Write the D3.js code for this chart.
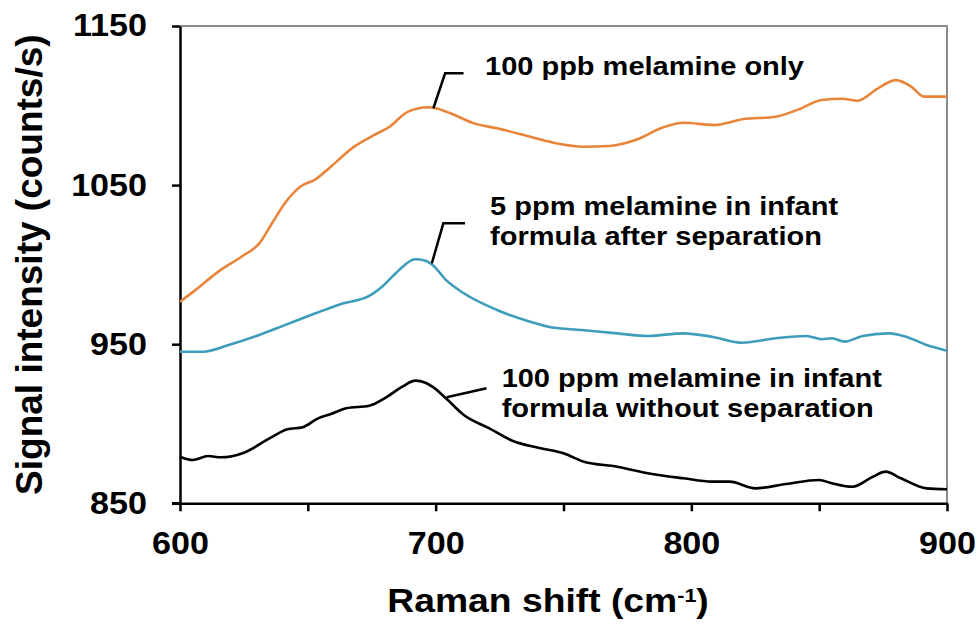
<!DOCTYPE html>
<meta charset="utf-8">
<style>
    body { margin: 0; background: #fff; }
    text { font-family: "Liberation Sans", Arial, sans-serif; font-weight: bold; fill: #000; }
    .axis path, .axis line { stroke: #000; stroke-width: 2.5px; }
    .series { fill: none; stroke-width: 2.6px; stroke-linejoin: round; }
</style>
<svg id="chart" width="978" height="624"></svg>
<script src="https://d3js.org/d3.v7.min.js"></script>
<script>
// Raman shift (cm-1) and signal intensity (counts/s)
var orangeX = [600, 606, 615, 624, 631, 636, 641, 647, 653, 659, 668, 676, 682, 689, 697, 700, 706, 715, 724, 737, 747, 758, 768, 779, 789, 797, 809, 820, 833, 842, 851, 859, 865, 873, 880, 886, 891, 900];
var orangeY = [976.7, 984, 995.6, 1005, 1013.4, 1026, 1038.6, 1049, 1053.6, 1061.6, 1074, 1081.5, 1086.7, 1096, 1098.9, 1098.3, 1095, 1088.8, 1085.7, 1080.4, 1076.3, 1074.1, 1074.6, 1078.8, 1086.3, 1089.2, 1087.8, 1091.4, 1093, 1097.6, 1103.5, 1104.3, 1103, 1110.8, 1116, 1111.9, 1105.6, 1105.6];

var blueX = [600, 609, 619, 631, 641, 653, 663, 674, 679, 685, 692, 696, 699, 704, 711, 724, 737, 745, 757, 771, 783, 797, 808, 820, 833, 845, 851, 855, 860, 867, 877, 884, 892, 900];
var blueY = [945.3, 945.3, 949.5, 955.8, 962, 969.4, 975.3, 980.3, 986.1, 995.6, 1003.4, 1002.5, 999.5, 990.4, 982, 971.5, 964.1, 960.6, 958.9, 956.8, 955.2, 956.8, 954.7, 950.9, 953.7, 955.2, 953.1, 953.7, 951.6, 955.2, 956.8, 954.7, 949.5, 945.9];

var blackX = [600, 605, 611, 616, 625, 635, 642, 648, 654, 659, 665, 674, 680, 687, 692, 696, 699, 704, 711, 721, 730, 741, 750, 758, 771, 783, 797, 808, 815, 825, 837, 850, 855, 863, 871, 876, 882, 892, 900];
var blackY = [879.3, 877.2, 879.7, 878.9, 881.8, 890.8, 896.5, 897.8, 903.4, 906.1, 909.7, 911.3, 916, 923.3, 927.1, 925.8, 923, 916, 905.5, 897.1, 889.3, 884.6, 881.4, 876.1, 873, 868.9, 865.7, 863.6, 863.6, 859.4, 862.1, 864.6, 862.6, 860.4, 866.7, 869.9, 865.7, 859.4, 858.8];

var xTicks = [600, 650, 700, 750, 800, 850, 900];
var yTicks = [850, 950, 1050, 1150];

var orangeLabel = ["100 ppb melamine only"];
var blueLabel = ["5 ppm melamine in infant", "formula after separation"];
var blackLabel = ["100 ppm melamine in infant", "formula without separation"];

var svg = d3.select("#chart");

var x = d3.scaleLinear().domain([600, 900]).range([180, 947]);
var y = d3.scaleLinear().domain([850, 1150]).range([503.3, 26]);

// the source figure is a little wider than tall, so text is stretched sideways
function stretch(sel, k) {
    sel.each(function () {
        var t = d3.select(this);
        var tx = +t.attr("x") || 0, ty = +t.attr("y") || 0;
        t.attr("x", 0).attr("y", 0)
            .attr("transform", "translate(" + tx + "," + ty + ") scale(" + k + ",1)");
    });
}

// frame (top and right)
svg.append("path")
    .attr("d", "M" + x(600) + "," + y(1150) + "H" + x(900) + "V" + y(850))
    .attr("fill", "none")
    .attr("stroke", "#8a8a8a")
    .attr("stroke-width", 2);

var xAxis = svg.append("g")
    .attr("class", "axis")
    .attr("transform", "translate(0," + y(850) + ")")
    .call(d3.axisBottom(x)
        .tickValues(xTicks)
        .tickSize(8)
        .tickSizeOuter(0)
        .tickPadding(21)
        .tickFormat(function (d) { return d % 100 === 0 ? d : ""; }));
xAxis.selectAll("text").style("font-size", "31px").call(stretch, 1.1);

var yAxis = svg.append("g")
    .attr("class", "axis")
    .attr("transform", "translate(" + x(600) + ",0)")
    .call(d3.axisLeft(y)
        .tickValues(yTicks)
        .tickSize(8)
        .tickSizeOuter(0)
        .tickPadding(25)
        .tickFormat(d3.format("d")));
yAxis.selectAll("text").style("font-size", "31px").call(stretch, 1.1);

// x axis line meets the 850 tick
svg.append("line")
    .attr("x1", x(600) - 8).attr("x2", x(600))
    .attr("y1", y(850)).attr("y2", y(850))
    .attr("stroke", "#000").attr("stroke-width", 2.5);

var xTitle = svg.append("text")
    .attr("x", 548)
    .attr("y", 612)
    .attr("text-anchor", "middle")
    .style("font-size", "33px");
xTitle.append("tspan").text("Raman shift (cm");
xTitle.append("tspan").attr("baseline-shift", "super").style("font-size", "19px").text("-1");
xTitle.append("tspan").text(")");
xTitle.call(stretch, 1.13);

svg.append("text")
    .attr("transform", "translate(42," + (y(850) + y(1150)) / 2 + ") rotate(-90)")
    .attr("text-anchor", "middle")
    .style("font-size", "37px")
    .text("Signal intensity (counts/s)");

var line = d3.line()
    .x(function (d) { return x(d[0]); })
    .y(function (d) { return y(d[1]); })
    .curve(d3.curveMonotoneX);

var series = [
    { xs: blackX, ys: blackY, color: "#000000" },
    { xs: blueX, ys: blueY, color: "#3e9dba" },
    { xs: orangeX, ys: orangeY, color: "#e8853a" }
];

series.forEach(function (s) {
    svg.append("path")
        .attr("class", "series")
        .attr("stroke", s.color)
        .attr("d", line(s.xs.map(function (v, i) { return [v, s.ys[i]]; })));
});

// annotations: leader points and text anchor in data units
var notes = [
    { pts: [[699.1, 1098.3], [703.7, 1120.3], [710.9, 1120.3]], tx: 719.3, ty: 1119.2, lines: orangeLabel },
    { pts: [[698.5, 1000.8], [703, 1026], [711.5, 1026]], tx: 721.3, ty: 1031.2, lines: blueLabel },
    { pts: [[704.3, 916.6], [719.9, 922.3]], tx: 725.8, ty: 923.3, lines: blackLabel }
];

notes.forEach(function (n) {
    svg.append("path")
        .attr("d", d3.line().x(function (d) { return x(d[0]); }).y(function (d) { return y(d[1]); })(n.pts))
        .attr("fill", "none")
        .attr("stroke", "#000")
        .attr("stroke-width", 2.5);
    var t = svg.append("text")
        .attr("transform", "translate(" + x(n.tx) + "," + y(n.ty) + ") scale(1.16,1)")
        .style("font-size", "25px");
    n.lines.forEach(function (l, i) {
        t.append("tspan")
            .attr("x", 0)
            .attr("dy", i === 0 ? 0 : 30)
            .text(l);
    });
});
</script>
